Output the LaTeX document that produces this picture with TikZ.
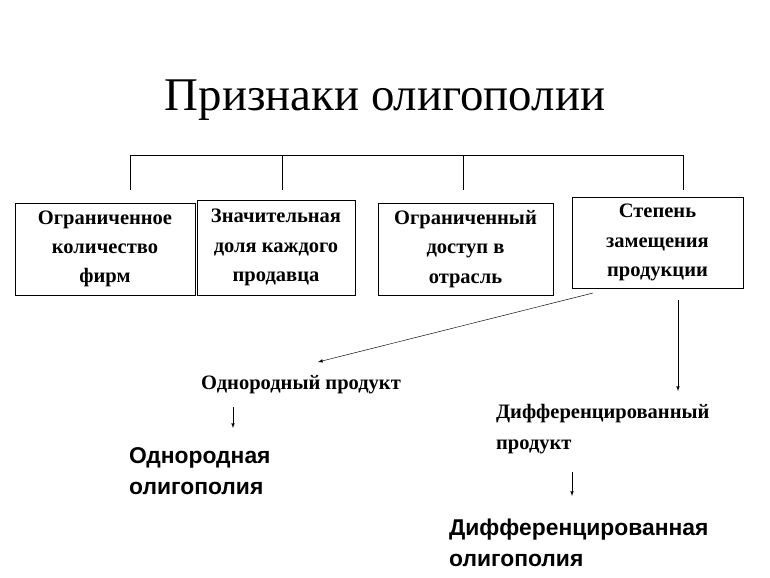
\documentclass[tikz,border=0pt]{standalone}
\usepackage{fontspec}
\setmainfont{Liberation Serif}
\newfontfamily\arialfont{Liberation Sans}
\usetikzlibrary{arrows}
\begin{document}
\begin{tikzpicture}[x=0.03cm,y=-0.03cm,
	sign box/.style={draw,thin,align=center,font=\fontsize{17.5}{25}\selectfont\bfseries,inner sep=0pt},
	kind/.style={align=left,anchor=west,font=\fontsize{17.5}{27}\selectfont\bfseries},
	result/.style={align=left,anchor=west,font=\arialfont\fontsize{19.5}{27}\selectfont\bfseries},
	link/.style={-latex,thin}]
	\useasboundingbox (0,0) rectangle (770,577);

	\node (title) at (385,100) {\fontsize{40}{46}\selectfont Признаки олигополии};

	\node[sign box,minimum width=180*0.03cm,minimum height=92*0.03cm] (A) at (105,249) {Ограниченное\\количество\\фирм};
	\node[sign box,minimum width=158*0.03cm,minimum height=95*0.03cm] (B) at (276,247.5) {Значительная\\доля каждого\\продавца};
	\node[sign box,minimum width=175*0.03cm,minimum height=92*0.03cm] (C) at (465.5,249) {Ограниченный\\доступ в\\отрасль};
	\node[sign box,minimum width=171*0.03cm,minimum height=91*0.03cm] (D) at (657.5,242.5) {Степень\\замещения\\продукции};

	\coordinate (top) at (130,155);
	\draw[thin] (130,190) -- (top) -- (683,155) -- (683,190);
	\draw[thin] (282,155) -- (282,190);
	\draw[thin] (463,155) -- (463,190);

	\coordinate (from1) at (593,293);
	\coordinate (from2) at (678,300);
	\node[kind] (homo) at (197,385) {Однородный продукт};
	\node[kind] (diff) at (492,429) {Дифференцированный\\продукт};
	\coordinate (to1) at (318,362);
	\coordinate (to2) at (678,391);
	\draw[link] (from1) -- (to1);
	\draw[link] (from2) -- (to2);

	\node[result] (homoolig) at (125,471) {Однородная\\олигополия};
	\node[result] (difolig) at (445,543) {Дифференцированная\\олигополия};
	\draw[link] (233,407) -- (233,428);
	\draw[link] (572,472) -- (572,496);
\end{tikzpicture}
\end{document}
